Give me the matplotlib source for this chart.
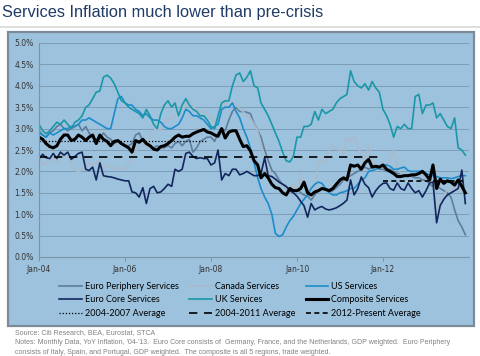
import pandas as pd
import matplotlib
matplotlib.use("Agg")
import matplotlib.pyplot as plt
import matplotlib.dates as mdates
from matplotlib.patches import Rectangle
from matplotlib.lines import Line2D

# monthly YoY services inflation, Jan-04 .. Dec-13 (%)
dates = pd.date_range("2004-01-01", periods=120, freq="MS")

euro_periphery = [
    2.95, 2.85, 2.8, 2.9, 2.95, 3.05, 3.1, 3.0, 2.95, 3.0, 3.05, 3.1,
    2.95, 3.05, 2.9, 2.8, 2.75, 2.75, 2.9, 2.8, 2.75, 2.65, 2.7, 2.65,
    2.6, 2.6, 2.65, 2.85, 2.9, 2.7, 2.65, 2.6, 2.55, 2.6, 2.55, 2.55,
    2.6, 2.55, 2.65, 2.7, 2.6, 2.7, 2.75, 2.45, 2.55, 2.7, 2.75, 2.8,
    2.8, 2.7, 2.9, 3.0, 2.95, 3.2, 3.4, 3.5, 3.4, 3.4, 3.38, 3.35,
    3.12, 2.96, 2.8, 2.5, 2.26, 2.03, 1.95, 1.8, 1.7, 1.64, 1.58, 1.55,
    1.6, 1.5, 1.45, 1.42, 1.33, 1.45, 1.55, 1.62, 1.56, 1.52, 1.55, 1.62,
    1.7, 1.8, 1.85, 1.9, 1.95, 2.0, 2.05, 2.1, 2.05, 2.1, 2.1, 2.05,
    2.05, 2.0, 2.05, 2.0, 1.95, 1.95, 1.9, 1.92, 1.88, 1.85, 1.85, 1.8,
    1.8, 1.7, 1.65, 1.65, 1.6, 1.55, 1.5, 1.4, 1.1, 0.85, 0.7, 0.52,
]
canada = [
    2.4, 2.15, 2.2, 2.25, 2.3, 2.2, 2.4, 2.35, 2.35, 2.1, 2.05, 1.98,
    2.05, 2.1, 2.2, 2.15, 2.2, 2.3, 2.05, 2.15, 2.1, 2.05, 2.1, 2.05,
    2.1, 2.2, 2.3, 2.45, 2.6, 2.7, 2.55, 2.8, 2.95, 3.0, 2.95, 3.15,
    3.2, 3.25, 3.3, 3.3, 3.45, 3.55, 3.65, 3.5, 3.45, 3.4, 3.38, 3.35,
    3.25, 3.15, 3.1, 3.35, 3.6, 3.65, 3.62, 3.55, 3.45, 3.4, 3.3, 3.25,
    3.1, 2.95, 2.65, 2.3, 2.1, 1.88, 1.8, 1.73, 1.65, 1.57, 1.6, 1.7,
    1.55, 1.95, 1.64, 1.5, 1.41, 1.62, 2.18, 2.3, 2.2, 2.57, 2.6, 2.52,
    2.5, 2.42, 2.8, 2.7, 2.8, 2.6, 2.4, 2.26, 2.6, 2.3, 2.1, 2.12,
    2.1, 2.15, 2.3, 2.5, 2.1, 1.95, 1.9, 1.98, 2.0, 2.03, 2.0, 1.95,
    1.8, 1.8, 1.78, 1.1, 1.33, 1.45, 1.56, 1.6, 1.62, 1.55, 1.52, 1.49,
]
us = [
    2.9, 2.85, 2.8, 2.9, 2.85, 2.9, 2.95, 3.0, 3.0, 3.05, 3.05, 3.1,
    3.2, 3.2, 3.25, 3.2, 3.15, 3.1, 3.05, 3.0, 3.0, 3.35, 3.7, 3.75,
    3.6, 3.55, 3.55, 3.45, 3.4, 3.3, 3.35, 3.25, 3.2, 3.2, 3.15, 3.05,
    3.0, 3.0, 3.05, 3.1, 3.25, 3.45, 3.4, 3.3, 3.3, 3.25, 3.2, 3.1,
    3.0, 3.05, 3.1, 3.45, 3.5, 3.5, 3.6, 3.4, 3.25, 3.0, 2.8, 2.55,
    2.2, 1.85, 1.6, 1.4, 1.25, 1.0, 0.55, 0.48, 0.52, 0.7, 0.85, 0.95,
    1.1, 1.25, 1.35, 1.45, 1.6, 1.7, 1.75, 1.72, 1.6, 1.5, 1.45, 1.45,
    1.5, 1.52, 1.55, 1.6, 1.6, 1.7, 1.8, 1.85, 2.0, 2.02, 2.05, 2.1,
    2.15, 2.15, 2.12, 2.05, 2.05, 2.08, 2.1, 2.02, 2.0, 2.0, 2.0, 2.02,
    1.95, 1.92, 1.9, 1.88, 1.85, 1.85, 1.85, 1.83, 1.85, 1.88, 1.9, 1.9,
]
euro_core = [
    2.3, 2.4, 2.32, 2.3, 2.42, 2.3, 2.45, 2.38, 2.45, 2.28, 2.35, 2.42,
    2.45, 2.05, 2.02, 2.1, 1.8, 2.2, 1.9, 1.88, 1.87, 1.85, 1.82, 1.8,
    1.78, 1.78, 1.52, 1.5, 1.4, 1.62, 1.25, 1.6, 1.65, 1.5, 1.52, 1.6,
    1.7, 1.65, 2.05, 2.0, 2.05, 2.42, 2.45, 2.35, 2.3, 2.32, 2.3, 2.3,
    2.15, 2.2, 2.5, 1.8, 1.95, 1.9, 2.05, 2.05, 1.92, 1.95, 2.0, 1.95,
    1.9, 1.9, 1.95, 2.32, 1.9, 1.88, 1.82, 1.75, 1.7, 1.65, 1.55, 1.5,
    1.42, 1.3, 1.2, 0.93, 1.25, 1.1, 1.15, 1.18, 1.12, 1.1, 1.12, 1.15,
    1.2, 1.26, 1.33, 1.8, 1.45, 1.6, 1.87, 1.7, 1.62, 1.4, 1.55, 1.65,
    1.72, 1.73, 1.6, 1.56, 1.73, 1.6, 1.56, 1.73, 1.6, 1.5, 1.55, 1.4,
    1.55, 1.73, 1.75, 0.8, 1.2, 1.35, 1.45, 1.5, 1.55, 1.6, 2.03, 1.25,
]
uk = [
    3.1, 2.95, 2.88, 2.95, 3.05, 3.15, 3.1, 3.2, 3.1, 3.0, 3.15, 3.2,
    3.3, 3.5, 3.55, 3.7, 3.85, 3.88, 4.2, 4.25, 4.18, 4.05, 3.85, 3.65,
    3.6, 3.5, 3.45, 3.4, 3.35, 3.25, 3.45, 3.3, 3.1, 3.0, 3.35, 3.55,
    3.65, 3.5, 3.6, 3.3, 3.55, 3.7, 3.55, 3.45, 3.4, 3.3, 3.3, 3.2,
    3.05, 3.0, 3.3, 3.6, 3.65, 3.65, 4.0, 4.25, 4.3, 4.1, 4.2, 4.35,
    4.0, 3.95, 3.6, 3.45, 3.3, 3.1, 2.9, 2.7, 2.45, 2.25, 2.22, 2.35,
    2.8, 2.8, 3.05, 3.05, 3.1, 3.4, 3.2, 3.45, 3.35, 3.4, 3.45, 3.6,
    3.7, 3.75, 3.8, 4.35, 4.1, 4.0, 3.95, 4.05, 3.9, 4.1, 3.95, 3.85,
    3.45, 3.3, 3.1, 2.8, 3.05, 3.0, 3.1, 3.0, 3.0, 3.75, 3.8, 3.35,
    3.55, 3.55, 3.6, 3.25, 3.35, 3.2, 3.05, 3.0, 3.25, 2.55, 2.5, 2.38,
]
composite = [
    2.8, 2.75, 2.65, 2.58, 2.55, 2.6, 2.75, 2.85, 2.85, 2.72, 2.75, 2.85,
    2.8, 2.72, 2.8, 2.85, 2.65, 2.85, 2.75, 2.7, 2.6, 2.7, 2.72, 2.65,
    2.6, 2.55, 2.45, 2.72, 2.68, 2.75, 2.65, 2.6, 2.52, 2.5, 2.58, 2.6,
    2.65, 2.72, 2.8, 2.85, 2.8, 2.82, 2.82, 2.88, 2.92, 2.95, 2.98, 2.92,
    2.9, 2.85, 2.82, 3.0, 2.78, 2.92, 2.95, 2.95, 2.75, 2.58, 2.6, 2.48,
    2.25, 2.15, 1.85, 1.95, 1.85, 1.7, 1.62, 1.6, 1.5, 1.45, 1.6, 1.55,
    1.55, 1.6, 1.75, 1.5, 1.45, 1.52, 1.55, 1.6, 1.58, 1.55, 1.6, 1.7,
    1.8, 1.85, 1.8, 2.15, 2.12, 2.15, 2.05, 2.2, 2.28, 2.1, 2.12, 2.1,
    2.15, 2.05, 2.0, 1.95, 1.88, 1.88, 1.9, 1.9, 1.92, 1.92, 1.95, 2.0,
    1.92, 1.8, 2.15, 1.6, 1.82, 1.72, 1.78, 1.75, 1.68, 1.8, 1.65, 1.5,
]

# period averages of the composite (%)
avg_0407 = 2.72
avg_0411 = 2.33
avg_12on = 1.78

W, H = 480, 356
fig = plt.figure(figsize=(W / 100, H / 100), dpi=100)
fig.patch.set_facecolor("white")

bg = "#9DC2DE"
fig.add_artist(Rectangle((8 / W, 1 - 326 / H), 466 / W, 294 / H, transform=fig.transFigure,
                         facecolor=bg, edgecolor="#7C8B99", lw=1.6, zorder=0))
fig.add_artist(Line2D([0, 1], [1 - 27 / H] * 2, color="#D8D8D8", lw=1.2))
fig.text(2 / W, 1 - 13 / H, "Services Inflation much lower than pre-crisis", fontsize=11.8,
         color="#1F3B66", family="Liberation Sans", va="center", ha="left")

ax = fig.add_axes([39 / W, 1 - 257 / H, 430 / W, 214 / H])
ax.set_facecolor(bg)
ax.patch.set_alpha(0)

lw = 1.2
ax.plot(dates, euro_periphery, color="#5E7D9C", lw=lw, label="Euro Periphery Services")
ax.plot(dates, canada, color="#A9BACA", lw=lw, label="Canada Services")
ax.plot(dates, us, color="#1C8CCB", lw=lw, label="US Services")
ax.plot(dates, euro_core, color="#13265C", lw=lw, label="Euro Core Services")
ax.plot(dates, uk, color="#1898A6", lw=lw, label="UK Services")
ax.plot(dates, composite, color="black", lw=2.2, label="Composite Services")

ax.plot([dates[0], dates[47]], [avg_0407] * 2, color="black", lw=0.9, ls=(0, (1, 1.5)),
        label="2004-2007 Average")
ax.plot([dates[0], dates[95]], [avg_0411] * 2, color="black", lw=1.2, ls=(0, (5, 4)),
        label="2004-2011 Average")
ax.plot([dates[96], dates[119]], [avg_12on] * 2, color="black", lw=1.2, ls=(0, (3, 2)),
        label="2012-Present Average")

ax.set_ylim(0, 5.0)
ax.set_yticks([i * 0.5 for i in range(11)])
ax.yaxis.set_major_formatter(lambda v, p: f"{v:.1f}%")
ax.set_xlim(pd.Timestamp("2004-01-01"), pd.Timestamp("2014-01-01"))
ax.set_xticks(pd.to_datetime(["2004-01-01", "2006-01-01", "2008-01-01", "2010-01-01", "2012-01-01"]))
ax.xaxis.set_major_formatter(mdates.DateFormatter("%b-%y"))
ax.grid(axis="y", color="#7E9DB6", lw=0.7)
ax.set_axisbelow(True)
for s in ["top", "right"]:
    ax.spines[s].set_visible(False)
ax.spines["left"].set_color("#7F93A6")
ax.spines["bottom"].set_color("#7F93A6")
ax.tick_params(axis="y", length=0, labelsize=5.5, colors="#333333", pad=4)
ax.tick_params(axis="x", length=3, color="#7F93A6", labelsize=5.5, labelcolor="#333333", pad=3)

h, l = ax.get_legend_handles_labels()
order = [0, 3, 6, 1, 4, 7, 2, 5, 8]
fig.legend([h[i] for i in order], [l[i] for i in order], ncol=3, frameon=False,
           loc="center", bbox_to_anchor=(0.5, 1 - 300 / H),
           prop={"family": "Lato", "size": 6.5},
           handlelength=2.5, handletextpad=0.3, columnspacing=1.2, labelspacing=0.5)

note_kw = dict(fontsize=5, color="#808080", ha="left", va="center", family="Liberation Sans")
fig.text(15 / W, 1 - 333 / H, "Source: Citi Research, BEA, Eurostat, STCA", **note_kw)
fig.text(15 / W, 1 - 343 / H, "Notes: Monthly Data, YoY Inflation, '04-'13.  Euro Core consists of  Germany, France, "
         "and the Netherlands, GDP weighted.  Euro Periphery", **note_kw)
fig.text(15 / W, 1 - 352 / H, "consists of Italy, Spain, and Portugal, GDP weighted.  The composite is all 5 regions, "
         "trade weighted.", **note_kw)

fig.savefig("out.png", dpi=100)
